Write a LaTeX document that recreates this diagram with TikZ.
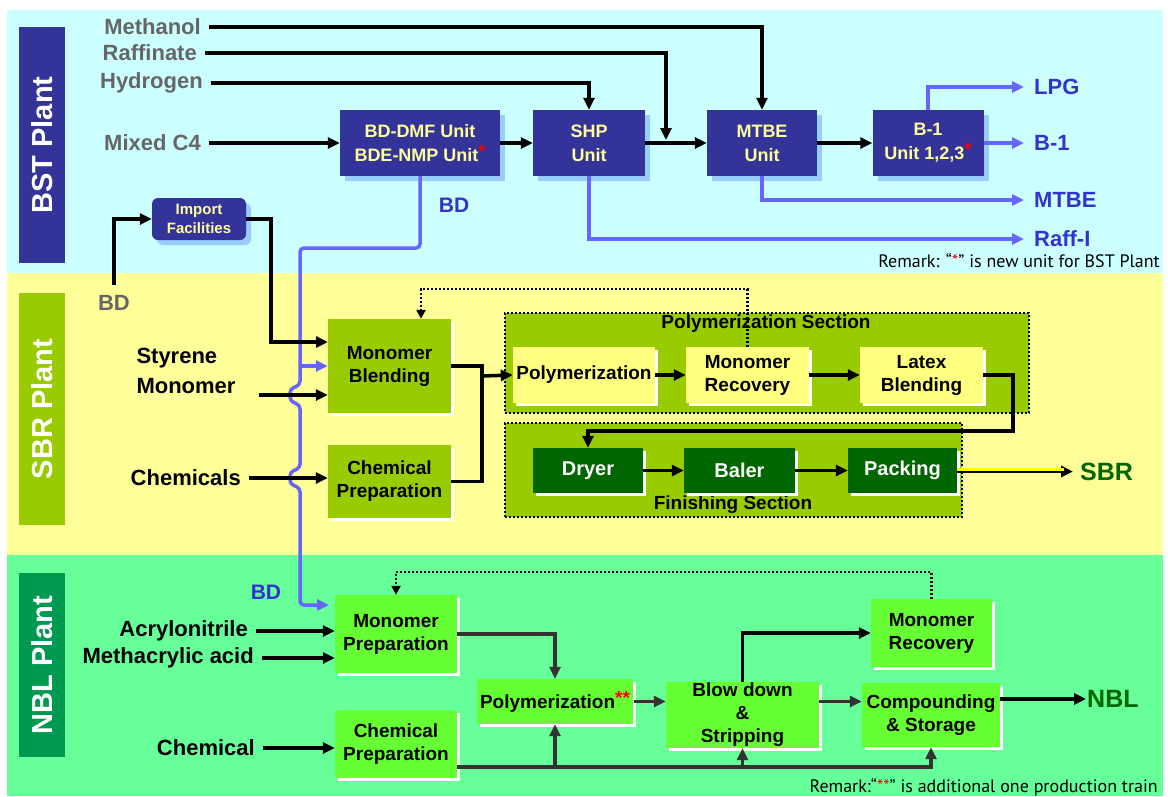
\documentclass[tikz,border=0pt]{standalone}
\usepackage{fontspec}
\setmainfont{Liberation Sans}
\newfontfamily\remarkfont{PT Sans}
\usepackage{color}
\usepackage{tikz}
\usetikzlibrary{arrows.meta,shadows}
\definecolor{bstback}{RGB}{204,255,255}
\definecolor{sbrback}{RGB}{255,255,153}
\definecolor{nblback}{RGB}{102,255,153}
\definecolor{bstbox}{RGB}{51,51,153}
\definecolor{bstshade}{RGB}{153,204,255}
\definecolor{boxtext}{RGB}{255,255,153}
\definecolor{sbrbox}{RGB}{153,204,0}
\definecolor{latexbox}{RGB}{255,255,128}
\definecolor{finbox}{RGB}{0,102,0}
\definecolor{nblbox}{RGB}{102,255,51}
\definecolor{nblmark}{RGB}{0,153,80}
\definecolor{bdline}{RGB}{102,102,255}
\definecolor{bdtext}{RGB}{51,51,204}
\definecolor{feedgrey}{RGB}{102,102,102}
\definecolor{sbrgreen}{RGB}{0,102,0}
\definecolor{sbryellow}{RGB}{255,255,0}
\definecolor{nblline}{RGB}{51,51,51}
\newcommand{\redstar}[1]{\raisebox{4pt}{\textcolor{red}{#1}}}
\tikzset{
  bstunit/.style={fill=bstbox,text=boxtext,align=center,minimum height=66,
    font=\bfseries\fontsize{18}{24}\selectfont,
    general shadow={fill=bstshade,shadow xshift=5pt,shadow yshift=-5pt}},
  sbrunit/.style={fill=sbrbox,align=center,font=\bfseries\fontsize{19}{23}\selectfont,
    general shadow={fill=white,shadow xshift=3pt,shadow yshift=-3pt}},
  latexunit/.style={sbrunit,fill=latexbox,minimum width=123,minimum height=56},
  finunit/.style={sbrunit,fill=finbox,text=white,minimum height=45,
    font=\bfseries\fontsize{20}{24}\selectfont},
  nblunit/.style={sbrunit,fill=nblbox},
  plantlabel/.style={rotate=90,text=white,minimum height=46,
    font=\bfseries\fontsize{29}{34}\selectfont},
  feed/.style={anchor=east,inner xsep=8pt,inner ysep=0pt,
    font=\bfseries\fontsize{22}{30}\selectfont},
  product/.style={anchor=west,inner xsep=10pt,inner ysep=0pt,text=bdtext,
    font=\bfseries\fontsize{22}{26}\selectfont},
  sectiontitle/.style={font=\bfseries\fontsize{19}{23}\selectfont},
  sectionbox/.style={fill=sbrbox,draw=black,line width=2pt,dash pattern=on 2pt off 2pt},
  remark/.style={anchor=east,inner sep=0pt,font=\remarkfont\fontsize{18}{21}\selectfont},
  flow/.style={line width=3.5pt,-{Triangle[length=12pt,width=11pt]}},
  bdflow/.style={flow,draw=bdline},
  nblflow/.style={flow,draw=nblline},
  loopflow/.style={line width=2.5pt,dash pattern=on 2pt off 2pt,-{Triangle[length=9pt,width=9pt]}}
}
\begin{document}
\begin{tikzpicture}[x=1pt,y=-1pt]
\useasboundingbox (0,0) rectangle (1168,796);
\fill[white] (0,0) rectangle (1168,796);
\fill[bstback] (7,10) rectangle (1163,273);
\fill[sbrback] (7,273) rectangle (1163,555);
\fill[nblback] (7,555) rectangle (1163,796);

\node[plantlabel,fill=bstbox,minimum width=236] (bstlabel) at (42,145) {BST Plant};
\node[plantlabel,fill=sbrbox,minimum width=232] (sbrlabel) at (42,409) {SBR Plant};
\node[plantlabel,fill=nblmark,minimum width=184] (nbllabel) at (42,665) {NBL Plant};

% BST plant
\node[feed,text=feedgrey] (methanol) at (209,27) {Methanol};
\node[feed,text=feedgrey] (raffinate) at (205,53) {Raffinate};
\node[feed,text=feedgrey] (hydrogen) at (211,83) {Hydrogen};
\node[feed,text=feedgrey] (mixedc) at (209,143) {Mixed C4};
\node[bstunit,minimum width=160] (bdunit) at (420,143) {BD-DMF Unit\\BDE-NMP Unit\redstar{*}};
\node[bstunit,minimum width=112] (shp) at (589,143) {SHP\\Unit};
\node[bstunit,minimum width=110] (mtbe) at (762,143) {MTBE\\Unit};
\node[bstunit,minimum width=111] (bone) at (928,143) {B-1\\Unit 1,2,3\redstar{*}};
\node[bstunit,minimum width=94,minimum height=42,rounded corners=6pt,
  font=\bfseries\fontsize{15}{19}\selectfont] (import) at (199,219) {Import\\Facilities};
\node[product] (lpg) at (1024,87) {LPG};
\node[product] (bonep) at (1024,143) {B-1};
\node[product] (mtbep) at (1024,200) {MTBE};
\node[product] (raffi) at (1024,239) {Raff-I};
\node[text=bdtext,font=\bfseries\fontsize{21}{25}\selectfont] (bdbst) at (454,205) {BD};
\node[remark] (bstremark) at (1160,261) {Remark: “\textcolor{red}{*}” is new unit for BST Plant};

\coordinate (raffjoin) at (666,140);
\draw[flow] (methanol.east) -| (mtbe.north);
\draw[flow] (raffinate.east) -| (raffjoin);
\draw[flow] (hydrogen.east) -| (shp.north);
\draw[flow] (mixedc.east) -- (bdunit.west);
\draw[flow] (bdunit) -- (shp);
\draw[flow] (shp) -- (mtbe);
\draw[flow] (mtbe) -- (bone);
\draw[bdflow] (bone.north) |- (lpg.west);
\draw[bdflow] (bone) -- (bonep);
\draw[bdflow] (mtbe.south) |- (mtbep.west);
\draw[bdflow] (shp.south) |- (raffi.west);

% SBR plant
\node[sectionbox,minimum width=524,minimum height=100] (polysec) at (767,363) {};
\node[sectiontitle] (polysectitle) at (766,324) {Polymerization Section};
\node[sectionbox,minimum width=457,minimum height=94] (finsec) at (733.5,470) {};
\node[sectiontitle] (finsectitle) at (733,505) {Finishing Section};
\node[feed,text=feedgrey,anchor=center,inner ysep=10pt] (bdsbr) at (114,303) {BD};
\node[font=\bfseries\fontsize{22}{30}\selectfont,align=left] (styrene) at (186,371) {Styrene\\Monomer};
\node[feed] (chemicals) at (249,478) {Chemicals};
\node[sbrunit,minimum width=123,minimum height=94] (mblend) at (389.5,366) {Monomer\\Blending};
\node[sbrunit,minimum width=123,minimum height=73] (chemprep) at (389.5,481.5) {Chemical\\Preparation};
\node[latexunit,minimum width=142,inner xsep=2pt] (polym) at (584,375) {Polymerization};
\node[latexunit] (mrec) at (747.5,375) {Monomer\\Recovery};
\node[latexunit] (latex) at (921.5,375) {Latex\\Blending};
\node[finunit,minimum width=110] (dryer) at (588,470.5) {Dryer};
\node[finunit,minimum width=111] (baler) at (739.5,470.5) {Baler};
\node[finunit,minimum width=109] (packing) at (902.5,470.5) {Packing};
\node[anchor=west,inner xsep=7pt,text=sbrgreen,font=\bfseries\fontsize{25}{30}\selectfont] (sbrout) at (1073,472) {SBR};

\coordinate (bdtap) at (300,366);
\coordinate (bdnbl) at (329,605);
\coordinate (mbin) at (328,342);
\coordinate (styin) at (259,395);
\coordinate (sbrjoin) at (482,376);
\coordinate (sbrloop) at (421,289);
\draw[bdflow,rounded corners=4pt] (bdunit.south) |- (300,248) -- (300,385) -- (290,389) -- (290,401)
  -- (300,405) -- (300,468) -- (290,472) -- (290,484) -- (300,488) -- (300,605) -- (bdnbl);
\draw[bdflow] (bdtap) -- (mblend.west);
\draw[flow] (bdsbr.north) |- (import.west);
\draw[flow] (import.east) -| (271,342) -- (mbin);
\draw[flow] (styin) -- (styin -| mblend.west);
\draw[flow] (chemicals.east) -- (chemicals.east -| chemprep.west);
\draw[line width=3.5pt] (mblend.east) -| (sbrjoin) |- (chemprep.east);
\draw[flow] (sbrjoin) -- (polym.west);
\draw[flow] (polym) -- (mrec);
\draw[flow] (mrec) -- (latex);
\draw[flow] (latex.east) -| (1013,431) -| (dryer.north);
\draw[flow] (dryer) -- (baler);
\draw[flow] (baler) -- (packing);
\draw[flow] ([yshift=-1pt]packing.east) -- ([yshift=-1pt]packing.east -| sbrout.west);
\draw[line width=3pt,sbryellow] ([yshift=1.5pt]packing.east) -- ([xshift=-9pt,yshift=1.5pt]packing.east -| sbrout.west);
\draw[loopflow] (mrec.north) |- (sbrloop) -- (sbrloop |- mblend.north);

% NBL plant
\node[text=bdtext,font=\bfseries\fontsize{21}{25}\selectfont] (bdnbltext) at (266,592) {BD};
\node[feed] (acrylo) at (256,631) {Acrylonitrile};
\node[feed] (methacryl) at (262,658) {Methacrylic acid};
\node[feed] (chemical) at (263,748) {Chemical};
\node[nblunit,minimum width=122,minimum height=78] (mprep) at (396,634) {Monomer\\Preparation};
\node[nblunit,minimum width=122,minimum height=68] (nblchemprep) at (396,744) {Chemical\\Preparation};
\node[nblunit,minimum width=156,minimum height=45] (nblpolym) at (555,701.5) {Polymerization\redstar{**}};
\node[nblunit,minimum width=153,minimum height=66,inner ysep=0pt] (blowdown) at (742.5,715) {Blow down\\\&\\Stripping};
\node[nblunit,minimum width=121,minimum height=68] (nblmrec) at (931.5,633) {Monomer\\Recovery};
\node[nblunit,minimum width=138,minimum height=64] (compound) at (931,715) {Compounding\\\& Storage};
\node[anchor=west,inner xsep=1pt,text=sbrgreen,font=\bfseries\fontsize{25}{30}\selectfont] (nblout) at (1086,699) {NBL};
\node[remark] (nblremark) at (1158,787) {Remark:“\textcolor{red}{**}” is additional one production train};

\coordinate (nblbus) at (457,767);
\coordinate (nblloop) at (396,572);
\draw[flow] (acrylo.east) -- (acrylo.east -| mprep.west);
\draw[flow] (methacryl.east) -- (methacryl.east -| mprep.west);
\draw[flow] (chemical.east) -- (chemical.east -| nblchemprep.west);
\draw[nblflow] (mprep.east) -| (nblpolym.north);
\draw[nblflow] (nblpolym.east) -- (nblpolym.east -| blowdown.west);
\draw[nblflow] (blowdown.east |- nblpolym.east) -- (compound.west |- nblpolym.east);
\draw[flow] (blowdown.north) |- (nblmrec.west);
\draw[flow] (compound.east |- nblout.west) -- (nblout.west);
\draw[nblflow] (nblbus) -| (compound.south);
\draw[nblflow] (nblpolym.south |- nblbus) -- (nblpolym.south);
\draw[nblflow] (blowdown.south |- nblbus) -- (blowdown.south);
\draw[loopflow] (nblmrec.north) |- (nblloop) -- (mprep.north);
\end{tikzpicture}
\end{document}
